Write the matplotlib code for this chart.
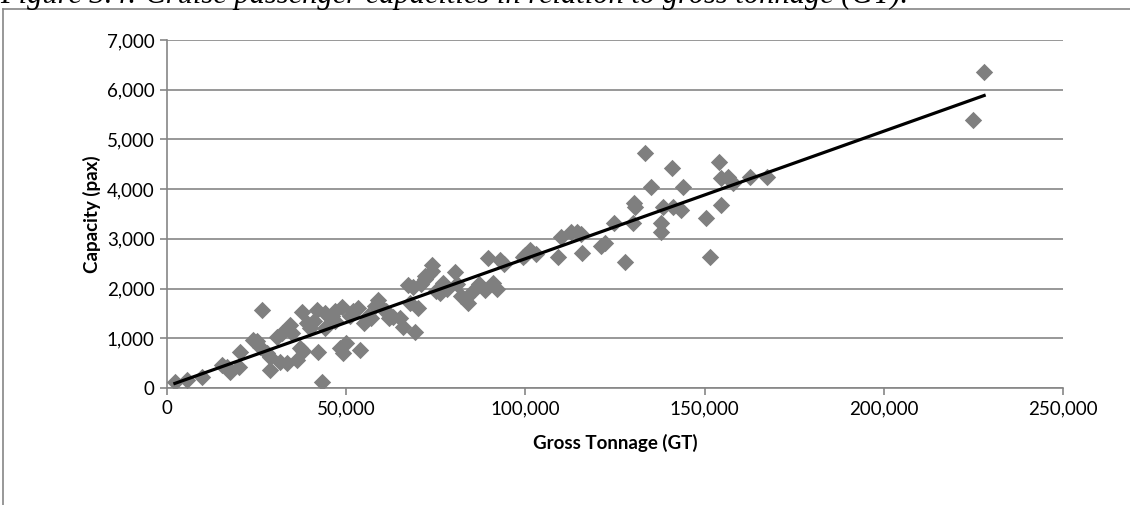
import numpy as np
import matplotlib
matplotlib.use("Agg")
import matplotlib.pyplot as plt
from matplotlib.lines import Line2D
from matplotlib.ticker import FuncFormatter

# Datos: tonelaje bruto (GT) y capacidad (pax)
gt = [2200, 5600, 9800, 15400, 16800, 17600, 20400, 20000, 24000, 26000,
      26500, 28000, 28800, 28800, 30700, 31600, 33500, 34400, 35000, 36300,
      37000, 37700, 38000, 40000, 41000, 41900, 42200, 43300, 44000, 45500,
      46000, 47000, 48300, 48900, 49000, 50000, 52000, 53400, 53900, 55000,
      56000, 57000, 58900, 61000, 62000, 63100, 65000, 65900, 67300, 67900,
      68700, 69300, 70000, 71000, 72000, 73000, 74000, 75000, 76300, 77100,
      78000, 80400, 81000, 82000, 83800, 84100, 86000, 87000, 88800, 89700,
      91000, 92000, 93000, 94000, 99400, 100000, 101400, 103000, 109200, 109800,
      112600, 114500, 115500, 115900, 121000, 122300, 124600, 127900, 129900, 130200,
      130500, 133500, 135000, 137700, 137700, 138500, 141000, 141300, 143300, 143900,
      150300, 151400, 153900, 154500, 154500, 156400, 157800, 162800, 167300, 225000,
      228000,
      25000, 32000, 39000, 44000, 47000, 51000, 58000, 60000, 72000, 74000]
pax = [120, 160, 220, 463, 422, 322, 724, 420, 966, 825,
       1570, 700, 624, 362, 1026, 523, 503, 1268, 1100, 563,
       800, 1530, 750, 1200, 1350, 1570, 724, 120, 1200, 1428,
       1450, 1350, 805, 1630, 700, 900, 1550, 1610, 765, 1300,
       1450, 1400, 1770, 1550, 1400, 1428, 1400, 1227, 2072, 1710,
       2030, 1127, 1600, 2100, 2200, 2300, 2475, 1950, 1911, 2110,
       2000, 2334, 2100, 1850, 1830, 1710, 2000, 2100, 1970, 2615,
       2110, 2000, 2575, 2500, 2636, 2676, 2777, 2700, 2636, 3040,
       3140, 3140, 3100, 2716, 2850, 2920, 3320, 2535, 3320, 3720,
       3650, 4730, 4040, 3140, 3320, 3640, 4426, 3640, 3580, 4040,
       3420, 2636, 4547, 4225, 3680, 4245, 4125, 4245, 4245, 5400,
       6350,
       950, 1100, 1300, 1500, 1550, 1450, 1650, 1600, 2250, 2350]

gt = np.array(gt)
pax = np.array(pax)

plt.rcParams["font.family"] = ["Lato", "DejaVu Sans"]

fig = plt.figure(figsize=(11.3, 5.05), dpi=100)
ax = fig.add_axes([0.1478, 0.2317, 0.7929, 0.6891])

gris = "#868686"

# puntos
ax.scatter(gt, pax, marker="D", s=78, color="#7f7f7f", linewidths=0, zorder=3)

# linea de tendencia (ajuste lineal)
m, b = np.polyfit(gt, pax, 1)
xs = np.array([gt.min(), gt.max()])
ax.plot(xs, m * xs + b, color="black", linewidth=2.3, zorder=4)

ax.set_xlim(0, 250000)
ax.set_ylim(0, 7000)
ax.set_xticks(np.arange(0, 250001, 50000))
ax.set_yticks(np.arange(0, 7001, 1000))
fmt = FuncFormatter(lambda v, p: f"{int(v):,}")
ax.xaxis.set_major_formatter(fmt)
ax.yaxis.set_major_formatter(fmt)

ax.grid(axis="y", color=gris, linewidth=1.2)
ax.set_axisbelow(True)
for s in ["top", "right"]:
    ax.spines[s].set_visible(False)
for s in ["left", "bottom"]:
    ax.spines[s].set_color(gris)
    ax.spines[s].set_linewidth(1.2)
ax.tick_params(axis="both", direction="out", length=5, width=1.2, color=gris,
               labelsize=13.5, pad=4)

ax.set_xlabel("Gross Tonnage (GT)", fontsize=13.5, fontweight="bold", labelpad=12)
ax.set_ylabel("Capacity (pax)", fontsize=13.5, fontweight="bold", labelpad=4)

# titulo cortado arriba, como en la imagen original
fig.text(0.0, 0.9945, "Figure 3.4: Cruise passenger capacities in relation to gross tonnage (GT).",
         fontsize=22, family="Liberation Serif", style="italic",
         va="baseline", ha="left")

# borde del area del grafico
fig.add_artist(Line2D([0.003, 1.0], [0.983, 0.983], color=gris, linewidth=1.2))
fig.add_artist(Line2D([0.003, 0.003], [0.0, 0.983], color=gris, linewidth=1.2))

fig.savefig("out.png", dpi=100)
